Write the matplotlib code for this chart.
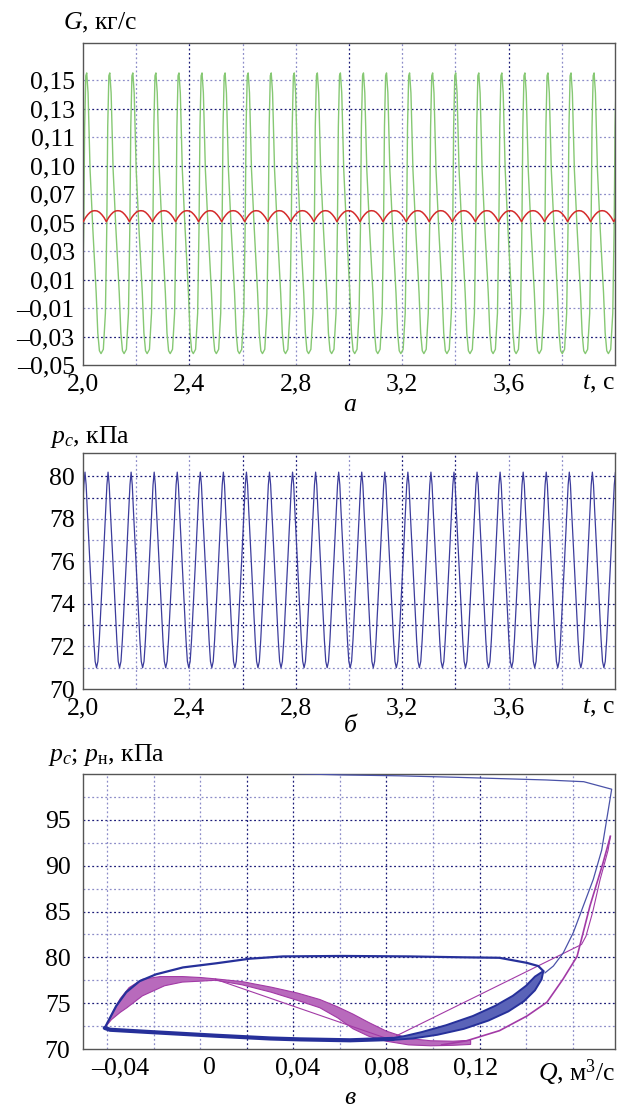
import numpy as np
import matplotlib
matplotlib.use('Agg')
import matplotlib.pyplot as plt
import matplotlib.transforms as mtransforms

plt.rcParams['font.family'] = ['Liberation Serif', 'DejaVu Serif']
plt.rcParams['mathtext.fontset'] = 'custom'
plt.rcParams['mathtext.rm'] = 'Liberation Serif'
plt.rcParams['mathtext.it'] = 'Liberation Serif:italic'

# ── data ──────────────────────────────────────────────────────────────────
T_START, T_END = 2.0, 4.0
PERIOD = 0.0867          # one oscillation cycle, s

# (a) G: one cycle of the green trace, phase 0..1 from a peak
G_PHASE = [0.0, 0.058, 0.145, 0.26, 0.41, 0.48, 0.55, 0.62, 0.72, 0.81, 0.87, 0.91, 0.96, 1.0]
G_GREEN = [0.155, 0.141, 0.087, 0.047, 0.0005, -0.0275, -0.040, -0.042, -0.039, -0.0136, 0.047, 0.117, 0.153, 0.155]
G_GREEN_T0 = 2.014
# one cycle of the red trace, phase from a cusp minimum
R_PHASE = [0.0, 0.1, 0.2, 0.3, 0.4, 0.5, 0.6, 0.7, 0.8, 0.9, 1.0]
G_RED = [0.0506, 0.0535, 0.0556, 0.0572, 0.0581, 0.0583, 0.0581, 0.0572, 0.0556, 0.0535, 0.0506]
G_RED_T0 = 2.001
G_TICKS = [0.15, 0.13, 0.11, 0.09, 0.07, 0.05, 0.03, 0.01, -0.01, -0.03, -0.05]
G_LABELS = ['0,15', '0,13', '0,11', '0,10', '0,07', '0,05', '0,03', '0,01', '–0,01', '–0,03', '–0,05']

# (б) p_c: one cycle, phase from a peak
P_PHASE = [0.0, 0.05, 0.10, 0.20, 0.30, 0.38, 0.44, 0.50, 0.56, 0.62, 0.70, 0.80, 0.90, 0.95, 1.0]
P_C = [80.2, 79.6, 78.4, 76.2, 74.0, 72.3, 71.3, 71.0, 71.3, 72.3, 74.0, 76.2, 78.4, 79.6, 80.2]
P_C_T0 = 2.0075

T_TICKS = [2.0, 2.4, 2.8, 3.2, 3.6]
T_LABELS = ['2,0', '2,4', '2,8', '3,2', '3,6']

# (в) phase portrait p vs Q
BLUE_TR_Q = [0.036, 0.060, 0.086, 0.110, 0.131, 0.152, 0.169, 0.1816, 0.1771, 0.1733, 0.1688, 0.1643, 0.1598, 0.1553, 0.1515]
BLUE_TR_P = [100.05, 99.9, 99.8, 99.65, 99.5, 99.35, 99.16, 98.34, 91.7, 88.5, 85.6, 82.7, 80.5, 79.05, 78.3]

BLUE_UP_Q = [-0.047, -0.0418, -0.0373, -0.0313, -0.0238, -0.0117, 0.0033, 0.0183, 0.0334, 0.060, 0.090, 0.115, 0.131, 0.1433, 0.1485, 0.1508]
BLUE_UP_P = [72.3, 74.7, 76.2, 77.4, 78.15, 78.9, 79.35, 79.85, 80.1, 80.15, 80.1, 80.0, 79.95, 79.4, 79.05, 78.5]

BLUE_BAND_OUT_Q = [0.1508, 0.150, 0.147, 0.142, 0.135, 0.126, 0.115, 0.103, 0.092, 0.083]
BLUE_BAND_OUT_P = [78.5, 77.6, 76.4, 75.2, 74.1, 73.1, 72.2, 71.55, 71.15, 71.0]
BLUE_BAND_IN_Q = [0.1508, 0.147, 0.143, 0.137, 0.129, 0.119, 0.107, 0.096, 0.088, 0.083]
BLUE_BAND_IN_P = [78.5, 77.9, 76.9, 75.8, 74.7, 73.6, 72.6, 71.85, 71.4, 71.2]

BLUE_LOW_Q = [0.083, 0.0636, 0.041, 0.0275, 0.003, -0.0266, -0.0446, -0.047]
BLUE_LOW_P = [71.1, 70.95, 71.05, 71.15, 71.45, 71.85, 72.1, 72.3]

MAG_RISE_Q = [-0.047, -0.043, -0.040, -0.036, -0.030, -0.022, -0.012, -0.004, 0.003]
MAG_RISE_UP = [72.3, 74.2, 75.5, 76.7, 77.6, 77.9, 77.9, 77.8, 77.65]
MAG_RISE_LO_Q = [-0.047, -0.044, -0.040, -0.037, -0.030, -0.020, -0.012, -0.004, 0.003]
MAG_RISE_LO = [72.3, 73.2, 74.0, 74.5, 75.8, 76.9, 77.3, 77.4, 77.5]

MAG_FALL_Q = [0.003, 0.015, 0.028, 0.040, 0.050, 0.058, 0.065, 0.072, 0.080, 0.090, 0.100, 0.110, 0.118]
MAG_FALL_UP = [77.65, 77.35, 76.75, 76.1, 75.4, 74.6, 73.8, 72.9, 71.95, 71.15, 70.9, 70.85, 70.95]
MAG_FALL_LO = [77.5, 77.0, 76.2, 75.3, 74.5, 73.4, 72.2, 71.4, 70.85, 70.45, 70.35, 70.4, 70.5]

MAG_OUT_Q = [0.105, 0.1162, 0.131, 0.1434, 0.1524, 0.1596, 0.166, 0.1718, 0.1777, 0.181]
MAG_OUT_P = [70.45, 70.9, 72.0, 73.6, 75.1, 77.6, 80.1, 85.6, 90.3, 93.2]
MAG_IN_Q = [0.181, 0.180, 0.1764, 0.173, 0.170, 0.168, 0.0846]
MAG_IN_P = [93.2, 91.7, 88.5, 84.9, 82.3, 81.4, 71.45]
MAG_CHORD_Q = [0.003, 0.082]
MAG_CHORD_P = [77.6, 71.0]

Q_TICKS = [-0.04, 0.0, 0.04, 0.08, 0.12]
Q_LABELS = ['–0,04', '0', '0,04', '0,08', '0,12']
Q_GRID = [-0.046, -0.025, -0.004, 0.017, 0.038, 0.059, 0.080, 0.101, 0.122, 0.143, 0.164]

# ── helpers ───────────────────────────────────────────────────────────────
DARK = '#1c1c78'
LIGHT = '#8c8cc8'
FS = 18.5


def tile(phase, vals, t0):
    """repeat one read-off cycle over the whole time window"""
    ph = np.asarray(phase[:-1])
    v = np.asarray(vals[:-1])
    n0 = int(np.floor((T_START - t0) / PERIOD)) - 1
    n1 = int(np.ceil((T_END - t0) / PERIOD)) + 1
    t = np.concatenate([t0 + (k + ph) * PERIOD for k in range(n0, n1)])
    y = np.tile(v, n1 - n0)
    return t, y


def gline(ax, pos, vertical, color):
    kw = dict(color=color, lw=0.9, ls=(0, (1.5, 2.0)), zorder=0.5)
    if vertical:
        ax.axvline(pos, **kw)
    else:
        ax.axhline(pos, **kw)


def frame(ax):
    for s in ax.spines.values():
        s.set_color('#555555')
        s.set_linewidth(1.0)
    ax.tick_params(length=0, labelsize=FS, pad=6)


def xlabel_right(ax, text):
    tr = mtransforms.offset_copy(ax.transAxes, fig=fig, y=-6, units='points')
    ax.text(1.0, 0.0, text, transform=tr, ha='right', va='top', fontsize=FS)


fig = plt.figure(figsize=(6.22, 11.08), dpi=100)
W, H = 622.0, 1108.0


def px_axes(l, t, r, b):
    return fig.add_axes([l / W, 1 - b / H, (r - l) / W, (b - t) / H])


# ── (a) G(t) ─────────────────────────────────────────────────────────────
ax1 = px_axes(83, 43, 615, 365)
tg, yg = tile(G_PHASE, G_GREEN, G_GREEN_T0)
tr_, yr = tile(R_PHASE, G_RED, G_RED_T0)
ax1.plot(tg, yg, color='#86c873', lw=1.0, zorder=2)
ax1.plot(tr_, yr, color='#d42a2a', lw=1.1, zorder=3)
ax1.set_xlim(T_START, T_END)
ax1.set_ylim(-0.05, 0.176)
ax1.set_xticks(T_TICKS)
ax1.set_xticklabels(T_LABELS)
ax1.set_yticks(G_TICKS)
ax1.set_yticklabels(G_LABELS)
for i, y in enumerate(G_TICKS[:-1]):
    gline(ax1, y, False, DARK if i % 2 else LIGHT)
for x in np.arange(2.2, 3.95, 0.2):
    gline(ax1, x, True, DARK if round(x, 1) in (2.4, 3.0, 3.6) else LIGHT)
frame(ax1)
xlabel_right(ax1, '$t$, с')
fig.text(63 / W, 1 - 23 / H, '$G$, кг/с', fontsize=FS, va='center', ha='left')
fig.text(350 / W, 1 - 405 / H, 'а', fontsize=FS, style='italic', ha='center', va='center')

# ── (б) p_c(t) ───────────────────────────────────────────────────────────
ax2 = px_axes(83, 453, 615, 689)
tp, yp = tile(P_PHASE, P_C, P_C_T0)
ax2.plot(tp, yp, color='#3c3c9c', lw=0.9, zorder=2)
ax2.set_xlim(T_START, T_END)
ax2.set_ylim(70, 81.1)
ax2.set_xticks(T_TICKS)
ax2.set_xticklabels(T_LABELS)
ax2.set_yticks([70, 72, 74, 76, 78, 80])
ax2.set_yticklabels(['70', '72', '74', '76', '78', '80'])
for y in range(71, 81):
    gline(ax2, y, False, DARK if y in (73, 74, 79, 80) else LIGHT)
for x in np.arange(2.2, 3.95, 0.2):
    gline(ax2, x, True, DARK if round(x, 1) in (2.6, 2.8, 3.2, 3.4) else LIGHT)
frame(ax2)
xlabel_right(ax2, '$t$, с')
fig.text(50 / W, 1 - 437 / H, '$p_c$, кПа', fontsize=FS, va='center', ha='left')
fig.text(350 / W, 1 - 726 / H, 'б', fontsize=FS, style='italic', ha='center', va='center')

# ── (в) phase portrait ───────────────────────────────────────────────────
ax3 = px_axes(83, 774, 615, 1049)
BLUE = '#26309a'
MAG = '#a23aa6'
ax3.fill(list(MAG_RISE_Q) + MAG_RISE_LO_Q[::-1], list(MAG_RISE_UP) + MAG_RISE_LO[::-1],
         color='#b86abc', lw=0.8, ec=MAG, zorder=2)
ax3.fill(list(MAG_FALL_Q) + MAG_FALL_Q[::-1], list(MAG_FALL_UP) + MAG_FALL_LO[::-1],
         color='#b86abc', lw=0.8, ec=MAG, zorder=2)
ax3.plot(MAG_OUT_Q, MAG_OUT_P, color=MAG, lw=1.2, zorder=2)
ax3.plot(MAG_IN_Q, MAG_IN_P, color=MAG, lw=0.8, zorder=2)
ax3.plot(MAG_CHORD_Q, MAG_CHORD_P, color=MAG, lw=0.8, zorder=2)

ax3.plot(BLUE_TR_Q, BLUE_TR_P, color='#4a52a8', lw=0.9, zorder=3)
ax3.plot(BLUE_UP_Q, BLUE_UP_P, color=BLUE, lw=1.6, zorder=3)
ax3.fill(list(BLUE_BAND_OUT_Q) + BLUE_BAND_IN_Q[::-1], list(BLUE_BAND_OUT_P) + BLUE_BAND_IN_P[::-1],
         color='#5a63b8', lw=1.4, ec=BLUE, zorder=3)
ax3.plot(BLUE_LOW_Q, BLUE_LOW_P, color=BLUE, lw=3.0, zorder=3, solid_capstyle='round')

ax3.set_xlim(-0.0568, 0.1831)
ax3.set_ylim(70, 100)
ax3.set_xticks(Q_TICKS)
ax3.set_xticklabels(Q_LABELS)
ax3.set_yticks([70, 75, 80, 85, 90, 95])
ax3.set_yticklabels(['70', '75', '80', '85', '90', '95'])
for i, y in enumerate(np.arange(72.5, 99, 2.5)):
    gline(ax3, y, False, DARK if i % 2 else LIGHT)
for i, x in enumerate(Q_GRID):
    gline(ax3, x, True, DARK if i in (3, 4, 6, 8) else LIGHT)
frame(ax3)
ax3.tick_params(axis='y', pad=9)
xlabel_right(ax3, '$Q$, м$^3$/с')
fig.text(48 / W, 1 - 755 / H, '$p_c$; $p_{\\mathrm{н}}$, кПа', fontsize=FS, va='center', ha='left')
fig.text(350 / W, 1 - 1098 / H, 'в', fontsize=FS, style='italic', ha='center', va='center')

fig.savefig('out.png', dpi=100)
